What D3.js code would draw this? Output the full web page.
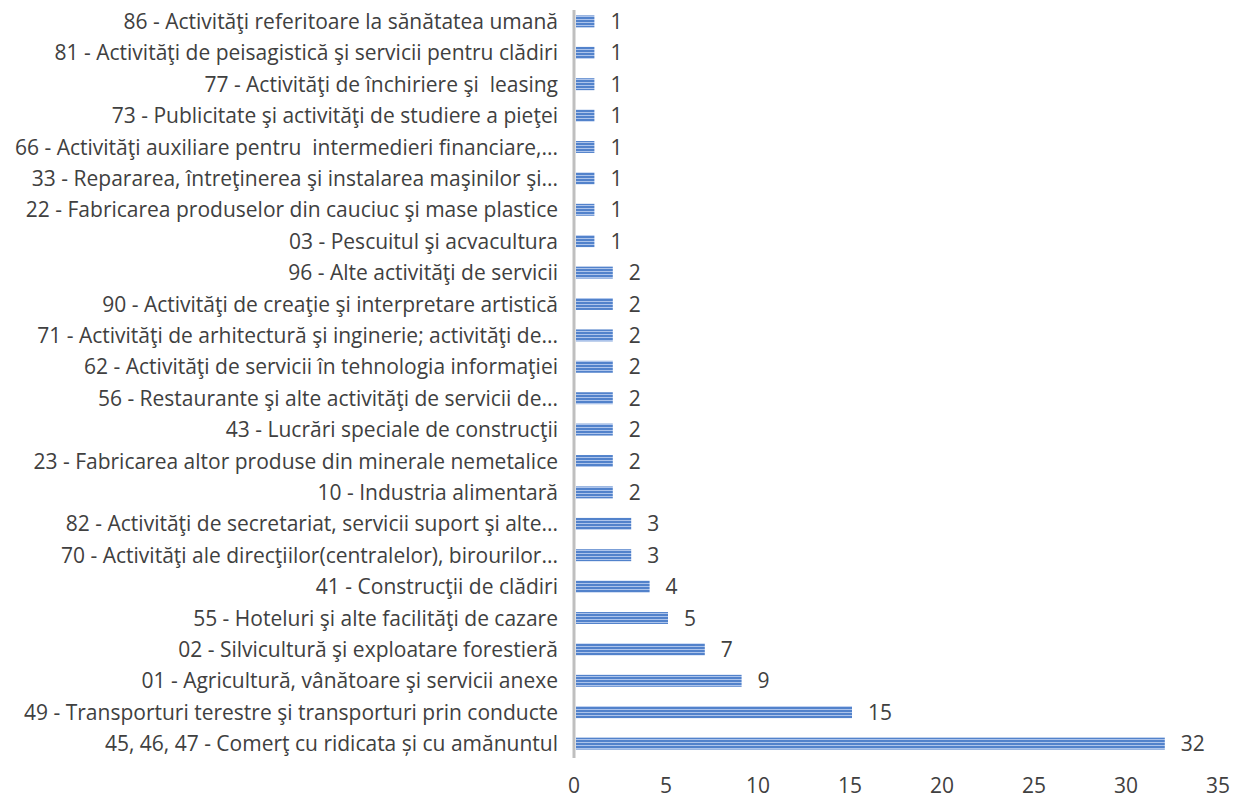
<!DOCTYPE html>
<html>
<head>
<meta charset="utf-8">
<script src="https://cdn.jsdelivr.net/npm/d3@7"></script>
<style>
  body { margin: 0; background: #fff; }
  svg { display: block; }
  text { font-family: "Open Sans", "DejaVu Sans", sans-serif; fill: #404040; }
</style>
</head>
<body>
<div id="chart"></div>
<script>
// categories, top to bottom as drawn
const categories = [
  '86 - Activităţi referitoare la sănătatea umană',
  '81 - Activităţi de peisagistică şi servicii pentru clădiri',
  '77 - Activităţi de închiriere şi  leasing',
  '73 - Publicitate şi activităţi de studiere a pieţei',
  '66 - Activităţi auxiliare pentru  intermedieri financiare,...',
  '33 - Repararea, întreţinerea şi instalarea maşinilor şi...',
  '22 - Fabricarea produselor din cauciuc şi mase plastice',
  '03 - Pescuitul şi acvacultura',
  '96 - Alte activităţi de servicii',
  '90 - Activităţi de creaţie şi interpretare artistică',
  '71 - Activităţi de arhitectură şi inginerie; activităţi de...',
  '62 - Activităţi de servicii în tehnologia informaţiei',
  '56 - Restaurante şi alte activităţi de servicii de...',
  '43 - Lucrări speciale de construcţii',
  '23 - Fabricarea altor produse din minerale nemetalice',
  '10 - Industria alimentară',
  '82 - Activităţi de secretariat, servicii suport şi alte...',
  '70 - Activităţi ale direcţiilor(centralelor), birourilor...',
  '41 - Construcţii de clădiri',
  '55 - Hoteluri şi alte facilităţi de cazare',
  '02 - Silvicultură şi exploatare forestieră',
  '01 - Agricultură, vânătoare şi servicii anexe',
  '49 - Transporturi terestre şi transporturi prin conducte',
  '45, 46, 47 - Comerţ cu ridicata și cu amănuntul'
];
const values = [1, 1, 1, 1, 1, 1, 1, 1, 2, 2, 2, 2, 2, 2, 2, 2, 3, 3, 4, 5, 7, 9, 15, 32];
const xTicks = [0, 5, 10, 15, 20, 25, 30, 35];

const W = 1235, H = 799;
const margin = { top: 6, right: 15, bottom: 40, left: 576 };

const svg = d3.select('#chart').append('svg')
  .attr('width', W).attr('height', H);

// striped fill, like the Excel pattern
const defs = svg.append('defs');
const pat = defs.append('pattern')
  .attr('id', 'stripes').attr('patternUnits', 'userSpaceOnUse')
  .attr('width', 8).attr('height', 3);
pat.append('rect').attr('width', 8).attr('height', 3).attr('fill', '#5282cb');
pat.append('rect').attr('y', 1).attr('width', 8).attr('height', 1).attr('fill', '#adc4eb');

const x = d3.scaleLinear().domain([0, 35]).range([margin.left, 1220]);
const y = d3.scaleBand().domain(categories)
  .range([margin.top, H - margin.bottom]).paddingInner(0.62).paddingOuter(0.3);

svg.append('g').selectAll('rect').data(values).join('rect')
  .attr('x', x(0))
  .attr('y', (d, i) => y(categories[i]))
  .attr('width', d => x(d) - x(0))
  .attr('height', y.bandwidth())
  .attr('fill', 'url(#stripes)');

// value labels
svg.append('g').selectAll('text').data(values).join('text')
  .attr('x', d => x(d) + 16)
  .attr('y', (d, i) => y(categories[i]) + y.bandwidth() / 2)
  .attr('dy', '0.36em')
  .attr('font-size', 21)
  .text(d => d);

// category labels
svg.append('g').selectAll('text').data(categories).join('text')
  .attr('x', 558)
  .attr('y', d => y(d) + y.bandwidth() / 2)
  .attr('dy', '0.36em')
  .attr('text-anchor', 'end')
  .attr('font-size', 21)
  .style('white-space', 'pre')
  .text(d => d);

// vertical axis line
svg.append('line')
  .attr('x1', 574).attr('x2', 574)
  .attr('y1', 10).attr('y2', 758)
  .attr('stroke', '#bfbfbf').attr('stroke-width', 3);

// x tick labels
svg.append('g').selectAll('text').data(xTicks).join('text')
  .attr('x', d => x(d) - 2)
  .attr('y', 786)
  .attr('dy', '0.35em')
  .attr('text-anchor', 'middle')
  .attr('font-size', 21)
  .text(d => d);
</script>
</body>
</html>
